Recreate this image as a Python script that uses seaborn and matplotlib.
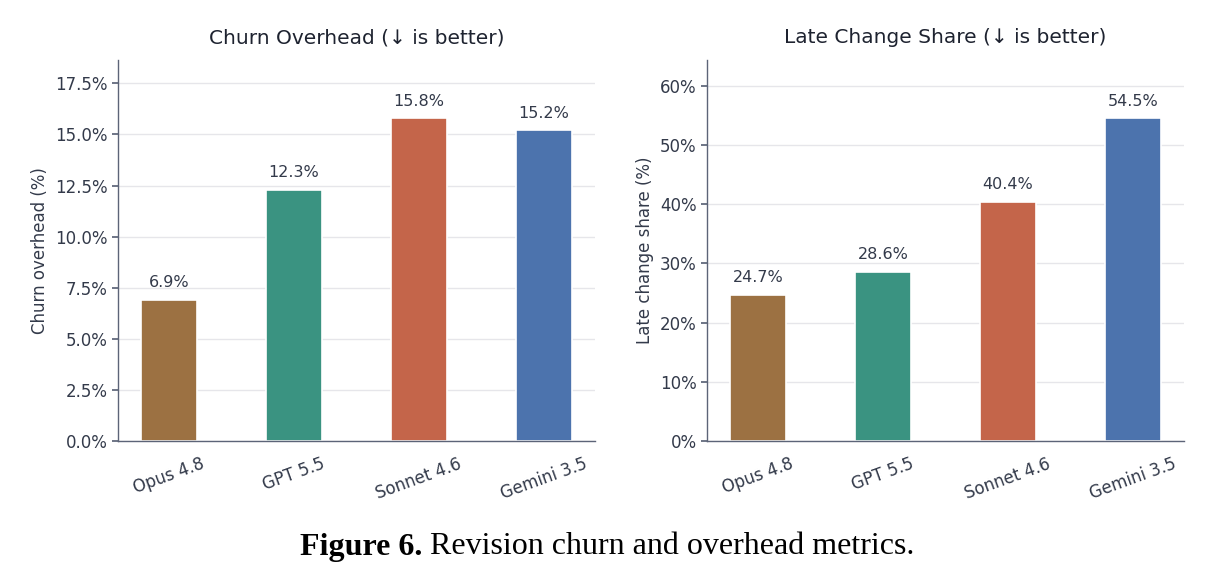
import matplotlib
matplotlib.use("Agg")
import matplotlib.pyplot as plt
import seaborn as sns
import pandas as pd
from matplotlib.ticker import FuncFormatter, MultipleLocator

models = ["Opus 4.8", "GPT 5.5", "Sonnet 4.6", "Gemini 3.5"]
churn_overhead = [6.9, 12.3, 15.8, 15.2]
late_change_share = [24.7, 28.6, 40.4, 54.5]
colors = ["#9C7142", "#3A9381", "#C4654A", "#4C73AD"]

sns.set_theme(style="white")
plt.rcParams["font.family"] = ["DejaVu Sans"]
text_c = "#333a4a"
spine_c = "#5c6478"

fig = plt.figure(figsize=(12.08, 5.78), dpi=100)
ax1 = fig.add_axes([118/1208, 1-441/578, 477/1208, 381/578])
ax2 = fig.add_axes([707/1208, 1-441/578, 477/1208, 381/578])

def draw(ax, vals, title, ylabel, step, fmt):
    df = pd.DataFrame({"model": models, "val": vals})
    sns.barplot(data=df, x="model", y="val", hue="model", palette=colors, saturation=1,
                width=0.45, edgecolor="white", linewidth=1.2, legend=False, ax=ax)
    ax.set_xlim(-0.41, 3.41)
    ax.set_ylim(0, max(vals) * 1.18)
    ax.yaxis.set_major_locator(MultipleLocator(step))
    ax.yaxis.set_major_formatter(FuncFormatter(fmt))
    ax.grid(axis="y", color="#e6e6ea", linewidth=1.0)
    ax.set_axisbelow(True)
    for s in ["top", "right"]:
        ax.spines[s].set_visible(False)
    for s in ["left", "bottom"]:
        ax.spines[s].set_color(spine_c)
        ax.spines[s].set_linewidth(1.0)
    ax.tick_params(axis="y", left=True, length=4, color=spine_c, labelsize=12, labelcolor=text_c)
    ax.tick_params(axis="x", bottom=False, labelsize=12, labelcolor=text_c, pad=4)
    for lab in ax.get_xticklabels():
        lab.set_rotation(20)
        lab.set_ha("center")
    ax.set_xlabel("")
    ax.set_ylabel(ylabel, fontsize=12, color=text_c)
    ax.set_title(title, fontsize=14.5, color="#1e2330", pad=12)
    ymax = ax.get_ylim()[1]
    for i, v in enumerate(vals):
        ax.text(i, v + ymax * 0.025, f"{v:.1f}%", ha="center", va="bottom",
                fontsize=11.5, color=text_c)

draw(ax1, churn_overhead, "Churn Overhead (↓ is better)", "Churn overhead (%)", 2.5,
     lambda v, p: f"{v:.1f}%")
draw(ax2, late_change_share, "Late Change Share (↓ is better)", "Late change share (%)", 10,
     lambda v, p: f"{v:.0f}%")

cap_y = 1 - 547/578
fs = 23
t1 = fig.text(0.5, cap_y, "Figure 6. Revision churn and overhead metrics.", ha="center",
              va="center", fontsize=fs, family="Liberation Serif", color="white")
fig.canvas.draw()
bb = t1.get_window_extent()
t1.remove()
x0 = bb.x0 / fig.bbox.width
a = fig.text(x0, cap_y, "Figure 6.", ha="left", va="center", fontsize=fs,
             family="Liberation Serif", fontweight="bold", color="black")
fig.canvas.draw()
bb2 = a.get_window_extent()
fig.text(bb2.x1 / fig.bbox.width, cap_y, " Revision churn and overhead metrics.", ha="left",
         va="center", fontsize=fs, family="Liberation Serif", color="black")

fig.savefig("out.png", dpi=100)
